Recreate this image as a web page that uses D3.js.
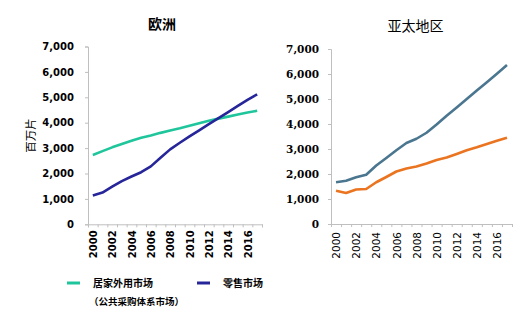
<!DOCTYPE html>
<html><head><meta charset="utf-8">
<script src="https://cdn.jsdelivr.net/npm/d3@7"></script>
<style>body{margin:0;background:#fff}svg{display:block}</style>
</head><body>
<script>
const years = d3.range(2000, 2018);
const yTicks = [0,1000,2000,3000,4000,5000,6000,7000];
const xLabelYears = [2000,2002,2004,2006,2008,2010,2012,2014,2016];
// Europe (百万片)
const euHome = [2730,2880,3030,3160,3290,3410,3500,3600,3690,3780,3880,3980,4080,4160,4240,4320,4400,4470];
const euRetail = [1130,1250,1480,1700,1880,2050,2280,2620,2950,3210,3460,3700,3940,4180,4420,4660,4900,5120];
// Asia Pacific
const apA = [1670,1730,1870,1970,2340,2640,2950,3240,3410,3650,3980,4330,4660,5000,5340,5670,6010,6360];
const apB = [1330,1240,1380,1400,1670,1880,2100,2220,2300,2420,2560,2660,2800,2950,3070,3200,3330,3450];

const svg = d3.select("body").append("svg").attr("width",521).attr("height",327);

function panel(o){
  const x = d3.scaleLinear().domain([-0.5, years.length-0.5]).range([o.x0, o.x1]);
  const y = d3.scaleLinear().domain([0,7000]).range([o.y0, o.y1]);
  const g = svg.append("g");
  // y axis
  const ya = g.append("g").attr("transform",`translate(${o.x0},0)`)
    .call(d3.axisLeft(y).tickValues(yTicks).tickSize(3).tickPadding(o.yPad).tickFormat(d3.format(",")));
  ya.select(".domain").attr("stroke","#bfbfbf");
  ya.selectAll(".tick line").attr("stroke","#bfbfbf");
  ya.selectAll("text").attr("fill","#000").style("font",o.yFont);
  // x axis boundaries
  const xa = g.append("g").attr("transform",`translate(0,${o.y0})`)
    .call(d3.axisBottom(x).tickValues(d3.range(-0.5, years.length, 1)).tickSize(3).tickFormat(""));
  xa.select(".domain").attr("stroke","#bfbfbf");
  xa.selectAll(".tick line").attr("stroke","#bfbfbf");
  // x labels
  const xl = g.append("g").attr("transform",`translate(0,${o.y0})`)
    .call(d3.axisBottom(x).tickValues(xLabelYears.map(v=>years.indexOf(v))).tickSize(0).tickFormat(i=>years[i]));
  xl.select(".domain").remove();
  xl.selectAll("text").attr("fill","#000").style("font",o.xFont)
    .attr("transform","rotate(-90)").attr("text-anchor","end")
    .attr("x",-o.xPad).attr("y",0).attr("dy","0.35em");
  // lines
  const line = d3.line().x((d,i)=>x(i)).y(d=>y(d));
  o.series.forEach(s=>{
    g.append("path").datum(s.v).attr("d",line).attr("fill","none")
      .attr("stroke",s.c).attr("stroke-width",2.6).attr("stroke-linejoin","round");
  });
  g.append("text").attr("x",o.tx).attr("y",o.ty).attr("text-anchor","middle")
    .style("font",o.tFont).text(o.title);
}

panel({x0:88,x1:262,y0:224.3,y1:46.5,yPad:11,xPad:6,
  yFont:"bold 10px 'DejaVu Sans'", xFont:"bold 10px 'DejaVu Sans'",
  series:[{v:euHome,c:"#1fc59b"},{v:euRetail,c:"#26269a"}],
  title:"欧洲", tx:162, ty:29, tFont:"bold 14px 'Noto Sans CJK SC'"});
panel({x0:331,x1:512,y0:224,y1:49,yPad:9,xPad:8,
  yFont:"bold 10.5px 'DejaVu Serif'", xFont:"10.5px 'DejaVu Sans'",
  series:[{v:apA,c:"#4a7690"},{v:apB,c:"#ea7420"}],
  title:"亚太地区", tx:415.5, ty:31, tFont:"14px 'Noto Sans CJK SC'"});

// y axis title
svg.append("text").attr("transform","translate(35,135.5) rotate(-90)").attr("text-anchor","middle")
  .style("font","11.5px 'Noto Sans CJK SC'").text("百万片");

// legend
const leg = [{c:"#1fc59b",x:67,t:"居家外用市场"},{c:"#26269a",x:197,t:"零售市场"}];
leg.forEach(l=>{
  svg.append("line").attr("x1",l.x).attr("x2",l.x+13).attr("y1",283).attr("y2",283)
    .attr("stroke",l.c).attr("stroke-width",3);
  svg.append("text").attr("x",l.x+26).attr("y",283).attr("dy","0.35em")
    .style("font","bold 10px 'Noto Sans CJK SC'").text(l.t);
});
svg.append("text").attr("x",89).attr("y",302).attr("dy","0.35em")
  .style("font","bold 9.5px 'Noto Sans CJK SC'").text("（公共采购体系市场）");
</script>
</body></html>
